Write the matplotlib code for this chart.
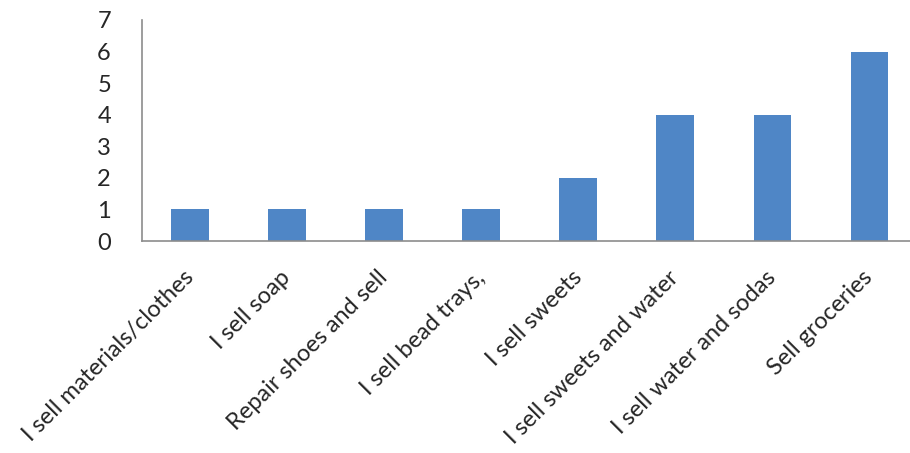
import numpy as np
import matplotlib
matplotlib.use("Agg")
import matplotlib.pyplot as plt

categories = ["I sell materials/clothes", "I sell soap", "Repair shoes and sell",
              "I sell bead trays,", "I sell sweets", "I sell sweets and water",
              "I sell water and sodas", "Sell groceries"]
counts = [1, 1, 1, 1, 2, 4, 4, 6]
y_ticks = [0, 1, 2, 3, 4, 5, 6, 7]

plt.rcParams['font.family'] = ['Lato', 'DejaVu Sans']

fig = plt.figure(figsize=(9.10, 4.53), dpi=100)
# axes stretches a bit past the right edge, like the cropped original
ax = fig.add_axes([141.5 / 910, 212 / 453, 776.6 / 910, 221 / 453])

x = np.arange(len(categories))
ax.bar(x, counts, width=0.39, color="#4F86C6", zorder=2)

ax.set_xlim(-0.5, len(categories) - 0.5)
ax.set_ylim(0, 7)
ax.set_yticks(y_ticks)
ax.set_yticklabels([str(v) for v in y_ticks], fontsize=17, color="#262626")
ax.set_xticks(x)
ax.set_xticklabels(categories, rotation=45, ha="right", va="center",
                   rotation_mode="anchor", fontsize=17, color="#262626")

for s in ["top", "right"]:
    ax.spines[s].set_visible(False)
for s in ["left", "bottom"]:
    ax.spines[s].set_color("#8c8c8c")
    ax.spines[s].set_linewidth(1.2)
ax.tick_params(axis="both", length=0)
ax.tick_params(axis="y", pad=22)
ax.tick_params(axis="x", pad=24)

fig.savefig("out.png", dpi=100)
